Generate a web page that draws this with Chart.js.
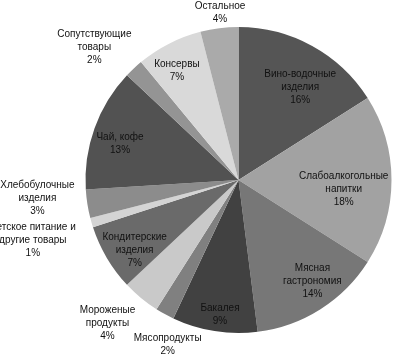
<!DOCTYPE html>
<html lang='ru'>
<head>
    <meta charset='UTF-8'>
    <title>Структура продаж</title>
    <style>
        body {
            margin: 0;
            padding: 0;
            background-color: #fff;
        }
        canvas {
            display: block;
        }
    </style>
</head>
<body>
    <canvas id='salesPie' width='395' height='356'></canvas>

    <script src='https://cdn.jsdelivr.net/npm/chart.js'></script>
    <script>
        // categories, clockwise from 12 o'clock
        const categories = [
            ['Вино-водочные', 'изделия'],
            ['Слабоалкогольные', 'напитки'],
            ['Мясная', 'гастрономия'],
            ['Бакалея'],
            ['Мясопродукты'],
            ['Мороженые', 'продукты'],
            ['Кондитерские', 'изделия'],
            ['Детское питание и', 'другие товары'],
            ['Хлебобулочные', 'изделия'],
            ['Чай, кофе'],
            ['Сопутствующие', 'товары'],
            ['Консервы'],
            ['Остальное']
        ];
        const shares = [16, 18, 14, 9, 2, 4, 7, 1, 3, 13, 2, 7, 4];

        const sliceColors = [
            '#555555', '#a2a2a2', '#777777', '#414141', '#808080', '#c9c9c9', '#6a6a6a',
            '#d4d4d4', '#8c8c8c', '#525252', '#949494', '#d9d9d9', '#aaaaaa'
        ];

        // label placement relative to each arc: [radius factor, angle shift in degrees]
        const labelPlace = [
            [0.73, 4.7], [0.69, 4.9], [0.82, -3.7], [0.89, -1.2], [1.17, -5.5],
            [1.27, 2.8], [0.82, -3.5], [1.40, 0], [1.32, 3.8], [0.81, -2.7],
            [1.28, -4.2], [0.82, -2.4], [1.10, 0.9]
        ];

        const sliceLabels = {
            id: 'sliceLabels',
            afterDatasetsDraw(chart) {
                const ctx = chart.ctx;
                const meta = chart.getDatasetMeta(0);
                ctx.save();
                ctx.font = '10px "Liberation Sans", Arial, sans-serif';
                ctx.fillStyle = '#111';
                ctx.textAlign = 'center';
                ctx.textBaseline = 'middle';
                meta.data.forEach((arc, i) => {
                    const p = arc.getProps(['x', 'y', 'startAngle', 'endAngle', 'outerRadius'], true);
                    const place = labelPlace[i];
                    const ang = (p.startAngle + p.endAngle) / 2 + place[1] * Math.PI / 180;
                    const r = p.outerRadius * place[0];
                    const cx = p.x + Math.cos(ang) * r;
                    const cy = p.y + Math.sin(ang) * r;
                    const lines = categories[i].concat([shares[i] + '%']);
                    const top = cy - (lines.length - 1) * 13 / 2;
                    lines.forEach((t, k) => ctx.fillText(t, cx, top + k * 13));
                });
                ctx.restore();
            }
        };

        new Chart(document.getElementById('salesPie').getContext('2d'), {
            type: 'pie',
            data: {
                labels: categories,
                datasets: [{
                    data: shares,
                    backgroundColor: sliceColors,
                    borderWidth: 0
                }]
            },
            options: {
                responsive: false,
                animation: false,
                layout: {
                    padding: { top: 27, bottom: 23, left: 85.5, right: 3.5 }
                },
                plugins: {
                    legend: { display: false },
                    tooltip: { enabled: false }
                }
            },
            plugins: [sliceLabels]
        });
    </script>
</body>
</html>
